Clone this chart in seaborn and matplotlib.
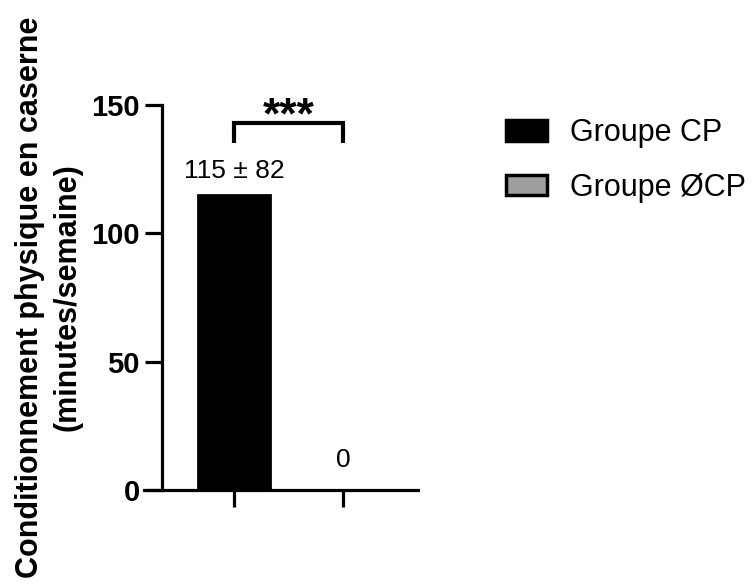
import matplotlib
matplotlib.use("Agg")
import matplotlib.pyplot as plt
import seaborn as sns
import pandas as pd
from matplotlib.patches import Patch

groups = ["Groupe CP", "Groupe ØCP"]
means = [115, 0]
sds = [82, 0]
labels = ["115 ± 82", "0"]
colors = ["#000000", "#9e9e9e"]
yticks = [0, 50, 100, 150]
signif = "***"

sns.set_theme(style="white")
plt.rcParams["font.family"] = ["Liberation Sans", "DejaVu Sans"]
plt.rcParams["text.color"] = "black"
plt.rcParams["axes.labelcolor"] = "black"
plt.rcParams["xtick.color"] = "black"
plt.rcParams["ytick.color"] = "black"

df = pd.DataFrame({"group": groups, "value": means})

fig = plt.figure(figsize=(7.54, 5.86), dpi=100)
ax = fig.add_axes([144/754, 1-490/586, (418-144)/754, (490-105)/586])

sns.barplot(data=df, x="group", y="value", hue="group", palette=colors,
            width=0.66, edgecolor="black", linewidth=2, errorbar=None,
            legend=False, ax=ax, dodge=False)

for s in ["top", "right"]:
    ax.spines[s].set_visible(False)
for s in ["left", "bottom"]:
    ax.spines[s].set_linewidth(2.3)
    ax.spines[s].set_color("black")
ax.spines["left"].set_position(("data", -0.66))

ax.set_xlim(-0.826, 1.688)
ax.set_ylim(0, 150)
ax.set_yticks(yticks)
ax.set_yticklabels([str(t) for t in yticks], fontsize=21, fontweight="bold")
ax.set_xticks([0, 1])
ax.set_xticklabels(["", ""])
ax.set_xlabel("")
ax.set_ylabel("Conditionnement physique en caserne\n(minutes/semaine)",
              fontsize=22, fontweight="bold", labelpad=6, linespacing=1.35)
ax.tick_params(axis="both", which="both", direction="out", length=12, width=2.3,
               color="black", labelcolor="black", left=True, bottom=True, pad=4)

# value labels
label_y = [121.5, 9]
for i, (lab, ly) in enumerate(zip(labels, label_y)):
    ax.text(i, ly, lab, ha="center", va="baseline", fontsize=19)

# significance bracket
yb, yl = 143.0, 135.2
ax.plot([0, 0, 1, 1], [yl, yb, yb, yl], color="black", lw=3,
        solid_capstyle="butt", solid_joinstyle="miter", clip_on=False)
ax.text(0.5, 140.8, signif, ha="center", va="baseline", fontsize=32,
        fontweight="bold", clip_on=False)

handles = [Patch(facecolor=c, edgecolor="black", linewidth=2.5, label=g)
           for g, c in zip(groups, colors)]
fig.legend(handles=handles, loc="upper left", bbox_to_anchor=(0.651, 0.824),
           frameon=False, fontsize=22, handlelength=1.34, handleheight=0.66,
           handletextpad=0.75, labelspacing=0.8, borderpad=0)

fig.savefig("out.png", dpi=100)
